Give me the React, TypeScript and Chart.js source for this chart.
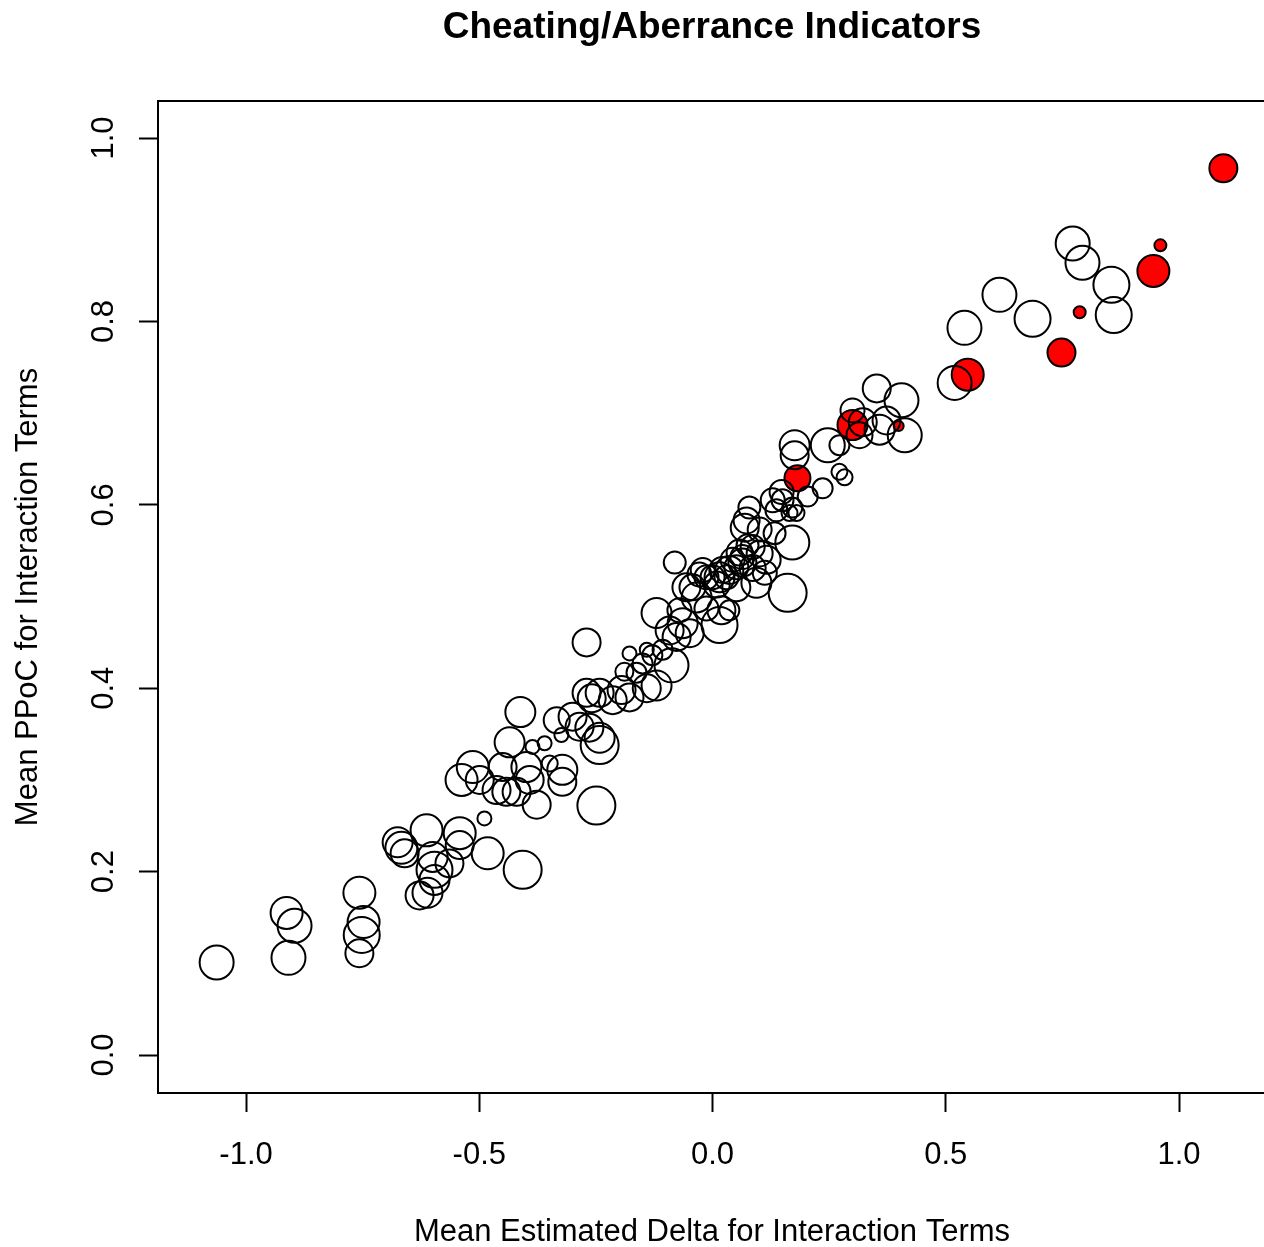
import React, { useEffect, useRef } from "react";
import { Chart, registerables } from "chart.js";

Chart.register(...registerables);

// ---- texts ----
const chartTitle = "Cheating/Aberrance Indicators";
const xAxisTitle = "Mean Estimated Delta for Interaction Terms";
const yAxisTitle = "Mean PPoC for Interaction Terms";

// ---- axes ----
const xTicks = [-1.0, -0.5, 0.0, 0.5, 1.0];
const yTicks = [0.0, 0.2, 0.4, 0.6, 0.8, 1.0];
const xLimits = [-1.1887, 1.1821];
const yLimits = [-0.0414, 1.0404];

// ---- items not flagged (open circles) ----
const openDelta = [
  -1.063, -0.913, -0.896, -0.909, -0.757, -0.748, -0.752, -0.757, -0.675, -0.667,
  -0.660, -0.613, -0.600, -0.596, -0.596, -0.628, -0.611, -0.564, -0.542, -0.542,
  -0.482, -0.407, -0.489, -0.538, -0.514, -0.499, -0.450, -0.463, -0.442, -0.420,
  -0.392, -0.399, -0.377, -0.349, -0.322, -0.322, -0.249, -0.412, -0.435, -0.386,
  -0.360, -0.334, -0.324, -0.300, -0.285, -0.270, -0.259, -0.242, -0.214, -0.178,
  -0.242, -0.242, -0.264, -0.270, -0.189, -0.163, -0.150, -0.141, -0.129, -0.178,
  -0.120, -0.107, -0.088, -0.077, -0.092, -0.064, -0.049, -0.120, -0.056, -0.034,
  -0.081, 0.015, 0.019, 0.015, 0.036, -0.013, 0.051, 0.064, -0.043, 0.009,
  0.051, 0.021, 0.030, -0.021, 0.000, -0.071, -0.013, 0.036, 0.094, 0.086,
  0.116, 0.101, 0.064, 0.086, 0.161, 0.171, 0.133, 0.101, 0.069, 0.073,
  0.079, 0.165, 0.180, 0.137, 0.129, 0.150, 0.148, 0.204, 0.236, 0.171,
  0.272, 0.283, 0.176, 0.176, 0.247, 0.272, 0.322, 0.315, 0.300, 0.352,
  0.405, 0.358, 0.373, 0.412, 0.540, 0.615, 0.686, 0.772, 0.793, 0.855,
  0.860, 0.519, -0.195, -0.141, 0.058, 0.043, 0.075, 0.112, -0.028,
];
const openPpoc = [
  0.101, 0.155, 0.141, 0.106, 0.177, 0.145, 0.131, 0.111, 0.232, 0.226,
  0.220, 0.245, 0.216, 0.202, 0.191, 0.174, 0.177, 0.209, 0.242, 0.229,
  0.220, 0.202, 0.258, 0.300, 0.314, 0.300, 0.314, 0.289, 0.287, 0.287,
  0.300, 0.314, 0.273, 0.318, 0.311, 0.298, 0.272, 0.374, 0.341, 0.336,
  0.340, 0.365, 0.349, 0.369, 0.358, 0.395, 0.389, 0.395, 0.387, 0.390,
  0.338, 0.346, 0.357, 0.450, 0.418, 0.417, 0.427, 0.442, 0.436, 0.438,
  0.403, 0.442, 0.425, 0.456, 0.463, 0.471, 0.460, 0.482, 0.510, 0.499,
  0.537, 0.469, 0.485, 0.521, 0.529, 0.521, 0.510, 0.537, 0.510, 0.513,
  0.532, 0.529, 0.521, 0.529, 0.521, 0.485, 0.487, 0.485, 0.515, 0.531,
  0.540, 0.547, 0.543, 0.554, 0.504, 0.559, 0.569, 0.573, 0.575, 0.583,
  0.597, 0.591, 0.591, 0.594, 0.605, 0.605, 0.614, 0.609, 0.618, 0.597,
  0.636, 0.630, 0.665, 0.654, 0.665, 0.665, 0.690, 0.676, 0.703, 0.727,
  0.714, 0.682, 0.692, 0.676, 0.793, 0.829, 0.803, 0.885, 0.864, 0.840,
  0.807, 0.733, 0.398, 0.400, 0.548, 0.540, 0.556, 0.526, 0.524,
];
const openCex = [
  1.7, 1.6, 1.7, 1.7, 1.6, 1.6, 1.8, 1.4, 1.5, 1.6,
  1.4, 1.6, 1.5, 1.8, 1.5, 1.4, 1.5, 1.4, 1.6, 1.4,
  1.6, 1.9, 0.7, 1.6, 1.6, 1.4, 1.4, 1.4, 1.4, 1.4,
  1.4, 1.5, 1.4, 0.8, 1.5, 1.4, 1.9, 1.5, 1.5, 0.7,
  0.7, 1.3, 0.7, 1.4, 1.4, 1.4, 1.4, 1.4, 1.4, 1.4,
  1.9, 1.5, 1.4, 1.4, 0.9, 1.0, 1.0, 0.7, 1.0, 0.7,
  1.5, 1.0, 1.7, 1.4, 1.4, 1.5, 1.4, 1.5, 1.4, 1.5,
  1.1, 1.8, 1.4, 1.5, 1.4, 1.2, 1.4, 1.4, 1.3, 1.3,
  1.2, 1.3, 1.2, 1.2, 1.2, 1.2, 1.2, 1.0, 1.5, 1.3,
  1.4, 1.3, 1.2, 1.2, 1.9, 1.7, 1.1, 1.2, 1.4, 1.3,
  1.1, 0.8, 0.8, 1.1, 1.2, 1.1, 1.2, 1.0, 1.0, 1.0,
  0.8, 0.8, 1.5, 1.4, 1.7, 1.0, 1.4, 1.3, 1.2, 1.4,
  1.7, 1.5, 1.4, 1.7, 1.7, 1.7, 1.8, 1.7, 1.7, 1.8,
  1.8, 1.7, 1.4, 1.4, 1.3, 1.2, 1.1, 1.2, 1.2,
];

// ---- flagged items (filled red) ----
const flagDelta = [0.182, 0.300, 0.399, 0.547, 0.748, 0.787, 0.945, 0.960, 1.095];
const flagPpoc = [0.629, 0.687, 0.686, 0.742, 0.766, 0.810, 0.855, 0.883, 0.967];
const flagCex = [1.3, 1.5, 0.5, 1.6, 1.4, 0.6, 1.6, 0.6, 1.4];

const FONT = '"Liberation Sans", Arial, Helvetica, sans-serif';
const CANVAS_W = 1264;
const CANVAS_H = 1247;
const CEX_TO_PX = 10;

export default function App() {
  const canvasRef = useRef<HTMLCanvasElement | null>(null);

  useEffect(() => {
    const canvas = canvasRef.current;
    if (!canvas) return;

    const framePlugin = {
      id: "rFrame",
      afterDraw(chart: any) {
        const { ctx, chartArea } = chart;
        const xs = chart.scales.x;
        const ys = chart.scales.y;
        ctx.save();
        // plot box (right edge lies beyond the canvas, as in the reference)
        ctx.strokeStyle = "#000";
        ctx.lineWidth = 2;
        ctx.strokeRect(chartArea.left, chartArea.top, chartArea.right + 4 - chartArea.left, chartArea.bottom - chartArea.top);

        ctx.fillStyle = "#000";
        ctx.font = `31px ${FONT}`;
        ctx.textAlign = "center";
        ctx.textBaseline = "middle";
        // x tick labels
        xTicks.forEach((v) => {
          ctx.fillText(v.toFixed(1), xs.getPixelForValue(v), 1155);
        });
        // y tick labels (rotated, R style)
        yTicks.forEach((v) => {
          ctx.save();
          ctx.translate(104, ys.getPixelForValue(v));
          ctx.rotate(-Math.PI / 2);
          ctx.fillText(v.toFixed(1), 0, 0);
          ctx.restore();
        });
        // axis titles
        const midX = (xs.getPixelForValue(xLimits[0]) + xs.getPixelForValue(xLimits[1]) + 4) / 2;
        ctx.fillText(xAxisTitle, midX - 1, 1232);
        ctx.save();
        ctx.translate(28, (chartArea.top + chartArea.bottom) / 2);
        ctx.rotate(-Math.PI / 2);
        ctx.fillText(yAxisTitle, 0, 0);
        ctx.restore();
        // main title
        ctx.font = `bold 37px ${FONT}`;
        ctx.fillText(chartTitle, midX - 1, 28);
        ctx.restore();
      },
    };

    const chart = new Chart(canvas, {
      type: "scatter",
      data: {
        datasets: [
          {
            label: "not flagged",
            data: openDelta.map((x, i) => ({ x, y: openPpoc[i] })),
            pointRadius: openCex.map((c) => c * CEX_TO_PX),
            pointBackgroundColor: "rgba(0,0,0,0)",
            pointBorderColor: "#000",
            pointBorderWidth: 2,
            showLine: false,
          },
          {
            label: "flagged",
            data: flagDelta.map((x, i) => ({ x, y: flagPpoc[i] })),
            pointRadius: flagCex.map((c) => c * CEX_TO_PX),
            pointBackgroundColor: "#FF0000",
            pointBorderColor: "#000",
            pointBorderWidth: 2,
            showLine: false,
          },
        ],
      },
      options: {
        responsive: false,
        maintainAspectRatio: false,
        animation: false,
        events: [],
        layout: { autoPadding: false, padding: { top: 101, left: 0, right: 0, bottom: 0 } },
        plugins: {
          legend: { display: false },
          tooltip: { enabled: false },
          title: { display: false },
        },
        scales: {
          x: {
            type: "linear",
            min: xLimits[0],
            max: xLimits[1],
            afterBuildTicks: (s: any) => {
              s.ticks = xTicks.map((v) => ({ value: v }));
            },
            afterFit: (s: any) => {
              s.height = 154;
            },
            grid: {
              display: true,
              drawOnChartArea: false,
              drawTicks: true,
              tickLength: 19,
              tickColor: "#000",
              tickWidth: 2,
            },
            border: { display: false },
            ticks: { display: false },
          },
          y: {
            type: "linear",
            min: yLimits[0],
            max: yLimits[1],
            afterBuildTicks: (s: any) => {
              s.ticks = yTicks.map((v) => ({ value: v }));
            },
            afterFit: (s: any) => {
              s.width = 158;
            },
            grid: {
              display: true,
              drawOnChartArea: false,
              drawTicks: true,
              tickLength: 19,
              tickColor: "#000",
              tickWidth: 2,
            },
            border: { display: false },
            ticks: { display: false },
          },
        },
      },
      plugins: [framePlugin],
    } as any);

    return () => {
      chart.destroy();
    };
  }, []);

  return (
    <div style={{ position: "absolute", left: 0, top: 0, width: CANVAS_W, height: CANVAS_H, background: "#fff" }}>
      <canvas ref={canvasRef} width={CANVAS_W} height={CANVAS_H} style={{ display: "block", width: CANVAS_W, height: CANVAS_H }} />
    </div>
  );
}
